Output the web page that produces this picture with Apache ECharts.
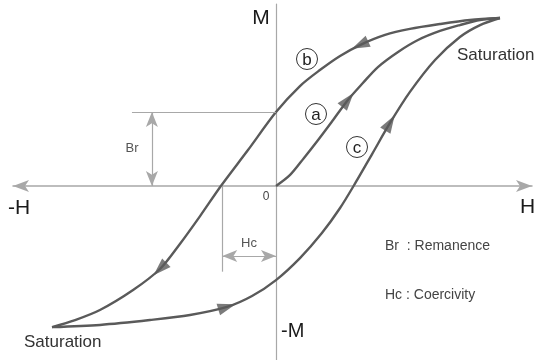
<!DOCTYPE html>
<html>
<head>
<meta charset="utf-8">
<title>Hysteresis loop</title>
<script src="https://cdn.jsdelivr.net/npm/echarts@6/dist/echarts.min.js"></script>
<style>
  html, body { margin: 0; padding: 0; background: #fff; }
  #main { width: 538px; height: 360px; }
</style>
</head>
<body>
<div id="main"></div>
<script>
// H in units of saturation field, M in units of saturation magnetization
// (a) initial magnetization curve
var curveA = [[0, 0], [0.063, 0.066], [0.125, 0.167], [0.188, 0.274], [0.255, 0.393], [0.321, 0.512],
              [0.388, 0.613], [0.455, 0.708], [0.545, 0.798], [0.634, 0.869], [0.732, 0.923],
              [0.821, 0.958], [0.911, 0.988], [1.000, 1.000]];
// (b) descending branch
var curveB = [[1.000, 1.000], [0.866, 0.988], [0.732, 0.964], [0.598, 0.935], [0.487, 0.899], [0.375, 0.839],
              [0.286, 0.774], [0.196, 0.690], [0.107, 0.595], [0.000, 0.440], [-0.125, 0.214], [-0.246, 0.000],
              [-0.339, -0.179], [-0.429, -0.345], [-0.518, -0.494], [-0.638, -0.619], [-0.786, -0.738],
              [-0.897, -0.798], [-1.000, -0.840]];
// (c) ascending branch
var curveC = [[-1.000, -0.840], [-0.786, -0.827], [-0.563, -0.798], [-0.384, -0.768], [-0.219, -0.720],
              [-0.107, -0.655], [0.000, -0.560], [0.107, -0.429], [0.205, -0.280], [0.286, -0.131],
              [0.357, 0.024], [0.429, 0.190], [0.509, 0.375], [0.598, 0.560], [0.710, 0.750],
              [0.821, 0.887], [0.911, 0.958], [1.000, 1.000]];
// where the direction arrows sit (index into each curve)
var arrowsA = [5];
var arrowsB = [5, 14];
var arrowsC = [4, 12];
var remanence = 0.44;    // Br
var coercivity = -0.24;  // Hc

var curveColor = '#5a5a5a';
var guideColor = '#a8a8a8';
var font = "'Liberation Sans', Arial, sans-serif";

var chart = echarts.init(document.getElementById('main'));

function curveSeries(name, data) {
    return {
        name: name,
        type: 'line',
        data: data,
        smooth: 0.3,
        showSymbol: false,
        silent: true,
        z: 3,
        lineStyle: { color: curveColor, width: 2.4 }
    };
}

function txt(x, y, text, size, color, align) {
    return {
        type: 'text', x: x, y: y, silent: true, z: 10,
        style: { text: text, font: size + 'px ' + font, fill: color, align: align || 'left', verticalAlign: 'middle' }
    };
}

function circled(x, y, letter) {
    return [
        { type: 'circle', shape: { cx: x, cy: y, r: 10.5 }, style: { fill: '#fff', stroke: '#333', lineWidth: 1 }, z: 10, silent: true },
        txt(x, y + 1, letter, 17, '#222', 'center')
    ];
}

var option = {
    animation: false,
    backgroundColor: '#fff',
    grid: { left: 13, right: 6, top: 4, bottom: 0 },
    xAxis: {
        type: 'value', min: -1.1741, max: 1.1429,
        splitLine: { show: false }, axisTick: { show: false }, axisLabel: { show: false },
        axisLine: { onZero: true, symbol: ['arrow', 'arrow'], symbolSize: [9, 16],
                    lineStyle: { color: guideColor, width: 1.5 } }
    },
    yAxis: {
        type: 'value', min: -1.0357, max: 1.0833,
        splitLine: { show: false }, axisTick: { show: false }, axisLabel: { show: false },
        axisLine: { onZero: true, lineStyle: { color: guideColor, width: 1.2 } }
    },
    series: [
        curveSeries('a', curveA),
        curveSeries('b', curveB),
        curveSeries('c', curveC),
        {
            name: 'guides', type: 'line', data: [], silent: true,
            markLine: {
                silent: true, animation: false,
                label: { show: false },
                lineStyle: { color: guideColor, width: 1.2, type: 'solid' },
                symbol: ['none', 'none'],
                data: [
                    [{ coord: [-0.643, remanence] }, { coord: [0, remanence] }],
                    [{ coord: [coercivity, 0] }, { coord: [coercivity, -0.51] }],
                    [{ coord: [-0.554, 0], symbol: 'arrow', symbolSize: [9, 15] },
                     { coord: [-0.554, remanence], symbol: 'arrow', symbolSize: [9, 15] }],
                    [{ coord: [coercivity, -0.417], symbol: 'arrow', symbolSize: [9, 15] },
                     { coord: [0, -0.417], symbol: 'arrow', symbolSize: [9, 15] }]
                ]
            }
        },
        {
            name: 'arrows', type: 'scatter', data: [], symbol: 'triangle', symbolSize: [12, 18],
            silent: true, z: 4, itemStyle: { color: curveColor }
        }
    ],
    graphic: [
        txt(261, 18, 'M', 21, '#1a1a1a', 'center'),
        txt(281, 331, '-M', 20, '#1a1a1a'),
        txt(8, 208, '-H', 21, '#1a1a1a'),
        txt(520, 207, 'H', 21, '#1a1a1a'),
        txt(266, 197, '0', 12, '#444', 'center'),
        txt(132, 148, 'Br', 13, '#555', 'center'),
        txt(249, 243, 'Hc', 13, '#555', 'center'),
        txt(385, 246, 'Br  : Remanence', 14, '#444'),
        txt(385, 295, 'Hc : Coercivity', 14, '#444'),
        txt(457, 55, 'Saturation', 17, '#333'),
        txt(24, 342, 'Saturation', 17, '#333')
    ].concat(circled(307, 59, 'b'), circled(316, 114, 'a'), circled(357, 147, 'c'))
};
chart.setOption(option);

// orient each arrowhead along its curve, in screen space
function arrowItems(curve, idx) {
    return idx.map(function (i) {
        var p0 = chart.convertToPixel({ gridIndex: 0 }, curve[i - 1]);
        var p1 = chart.convertToPixel({ gridIndex: 0 }, curve[i + 1]);
        var ang = Math.atan2(-(p1[1] - p0[1]), p1[0] - p0[0]) * 180 / Math.PI;
        return { value: curve[i], symbolRotate: ang - 90 };
    });
}
chart.setOption({
    series: [{}, {}, {}, {}, {
        data: arrowItems(curveA, arrowsA).concat(arrowItems(curveB, arrowsB), arrowItems(curveC, arrowsC))
    }]
});
</script>
</body>
</html>
